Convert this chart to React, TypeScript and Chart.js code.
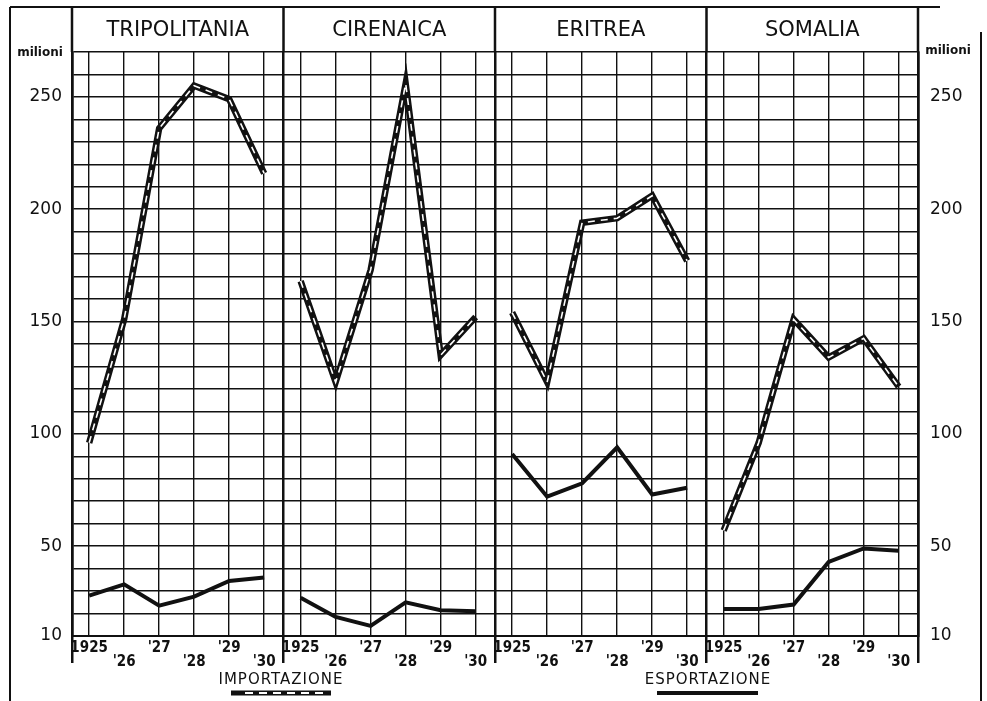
import { useEffect, useRef } from 'react';
import { Chart, registerables } from 'chart.js';

Chart.register(...registerables);

// ---- data ----
const colonies = ['TRIPOLITANIA', 'CIRENAICA', 'ERITREA', 'SOMALIA'];
const yearLabels = ['1925', "'26", "'27", "'28", "'29", "'30"];
const yTickLabels = [10, 50, 100, 150, 200, 250];

const importTripolitania = [96, 151, 236, 255, 249, 216];
const exportTripolitania = [28, 33, 23.5, 27.5, 34.5, 36];
const importCirenaica = [168, 123, 173, 256, 135, 152];
const exportCirenaica = [27, 18.5, 14.5, 25, 21.5, 21];
const importEritrea = [154, 123, 194, 196, 206, 177];
const exportEritrea = [91, 72, 78, 94, 73, 76];
const importSomalia = [57, 96, 151, 134, 142.5, 121];
const exportSomalia = [22, 22, 24, 43, 49, 48];

const importSeries = [importTripolitania, importCirenaica, importEritrea, importSomalia];
const exportSeries = [exportTripolitania, exportCirenaica, exportEritrea, exportSomalia];

// ---- layout constants ----
const PANEL_W = 6.043; // panel width in year units
const X0 = -0.49; // left edge of first panel
const X_MAX = X0 + 4 * PANEL_W;
const INK = '#111';

type TickInfo = { value: number; label: string[]; border: boolean };
const tickList: TickInfo[] = [];
for (let k = 0; k < 4; k++) {
  tickList.push({ value: X0 + k * PANEL_W, label: [''], border: true });
  yearLabels.forEach((lab, i) => {
    tickList.push({
      value: k * PANEL_W + i,
      label: i % 2 === 0 ? [lab, ''] : ['', lab],
      border: false,
    });
  });
}
tickList.push({ value: X_MAX, label: [''], border: true });

const framePlugin = {
  id: 'frame',
  afterDraw(chart: any) {
    const ctx = chart.ctx as CanvasRenderingContext2D;
    const xs = chart.scales.x;
    const top = chart.chartArea.top;
    ctx.save();
    ctx.strokeStyle = INK;
    ctx.fillStyle = INK;
    // outer frame
    ctx.lineWidth = 2;
    ctx.beginPath();
    ctx.moveTo(10, 7);
    ctx.lineTo(940, 7);
    ctx.moveTo(10, 7);
    ctx.lineTo(10, 701);
    ctx.moveTo(981, 32);
    ctx.lineTo(981, 701);
    ctx.stroke();
    // header separators
    ctx.lineWidth = 2.5;
    const borders: number[] = [];
    for (let k = 0; k <= 4; k++) borders.push(xs.getPixelForValue(X0 + k * PANEL_W));
    ctx.beginPath();
    borders.forEach((b) => {
      ctx.moveTo(b, 7);
      ctx.lineTo(b, top);
    });
    ctx.stroke();
    // titles
    ctx.textAlign = 'center';
    ctx.textBaseline = 'middle';
    ctx.font = '21px "DejaVu Sans", sans-serif';
    colonies.forEach((name, k) => {
      ctx.fillText(name, (borders[k] + borders[k + 1]) / 2, 31);
    });
    // unit labels
    ctx.font = 'bold 12px "DejaVu Sans", sans-serif';
    ctx.fillText('milioni', 40, 53);
    ctx.fillText('milioni', 948, 51);
    // legend
    ctx.font = '15px "DejaVu Sans", sans-serif';
    (ctx as any).letterSpacing = '1px';
    ctx.fillText('IMPORTAZIONE', 281, 680);
    ctx.fillText('ESPORTAZIONE', 708, 680);
    (ctx as any).letterSpacing = '0px';
    ctx.lineCap = 'butt';
    ctx.lineWidth = 5;
    ctx.beginPath();
    ctx.moveTo(231, 693);
    ctx.lineTo(331, 693);
    ctx.stroke();
    ctx.strokeStyle = '#fff';
    ctx.lineWidth = 1.8;
    ctx.setLineDash([8, 6]);
    ctx.beginPath();
    ctx.moveTo(245, 693);
    ctx.lineTo(329, 693);
    ctx.stroke();
    ctx.setLineDash([]);
    ctx.strokeStyle = INK;
    ctx.lineWidth = 4;
    ctx.beginPath();
    ctx.moveTo(657, 693);
    ctx.lineTo(758, 693);
    ctx.stroke();
    ctx.restore();
  },
};

export default function App() {
  const ref = useRef<HTMLCanvasElement | null>(null);

  useEffect(() => {
    if (!ref.current) return;
    const datasets: any[] = [];
    for (let k = 0; k < 4; k++) {
      const imp = importSeries[k].map((v, i) => ({ x: k * PANEL_W + i, y: v }));
      const exp = exportSeries[k].map((v, i) => ({ x: k * PANEL_W + i, y: v }));
      datasets.push({
        label: 'Importazione ' + colonies[k],
        data: imp,
        borderColor: '#fff',
        borderWidth: 1.6,
        borderDash: [7, 6],
        borderCapStyle: 'butt',
        pointRadius: 0,
        order: 0,
      });
      datasets.push({
        label: 'Importazione ' + colonies[k] + ' (contorno)',
        data: imp,
        borderColor: INK,
        borderWidth: 6.5,
        borderJoinStyle: 'miter',
        pointRadius: 0,
        order: 1,
      });
      datasets.push({
        label: 'Esportazione ' + colonies[k],
        data: exp,
        borderColor: INK,
        borderWidth: 4,
        borderJoinStyle: 'miter',
        pointRadius: 0,
        order: 1,
      });
    }

    const yTickCb = (v: any) => (yTickLabels.includes(Number(v)) ? String(v) : '');
    const yFont = { family: '"DejaVu Sans", sans-serif', size: 17 };

    const chart = new Chart(ref.current, {
      type: 'line',
      data: { datasets },
      plugins: [framePlugin],
      options: {
        animation: false,
        responsive: false,
        layout: { padding: { top: 52, left: 0, right: 0, bottom: 0 } },
        plugins: { legend: { display: false }, tooltip: { enabled: false } },
        scales: {
          x: {
            type: 'linear',
            min: X0,
            max: X_MAX,
            afterBuildTicks: (s: any) => {
              s.ticks = tickList.map((t) => ({ value: t.value }));
            },
            afterFit: (s: any) => {
              s.height = 65;
            },
            ticks: {
              autoSkip: false,
              maxRotation: 0,
              minRotation: 0,
              padding: -22,
              color: INK,
              font: {
                family: '"DejaVu Sans Condensed", "Liberation Sans Narrow", "DejaVu Sans", sans-serif',
                size: 15,
                weight: 'bold',
                lineHeight: '14px',
              },
              callback: (_v: any, idx: number) => tickList[idx]?.label ?? '',
            },
            grid: {
              color: INK,
              lineWidth: (c: any) => (tickList[c.index]?.border ? 2.5 : 1.4),
              tickLength: 27,
              tickColor: (c: any) => (tickList[c.index]?.border ? INK : 'rgba(0,0,0,0)'),
              tickWidth: (c: any) => (tickList[c.index]?.border ? 2.5 : 0),
            },
            border: { color: INK, width: 2 },
          },
          y: {
            type: 'linear',
            position: 'left',
            min: 10,
            max: 270,
            afterFit: (s: any) => {
              s.width = 72;
            },
            ticks: {
              stepSize: 10,
              autoSkip: false,
              padding: 10,
              color: INK,
              font: yFont,
              callback: yTickCb,
            },
            grid: { color: INK, lineWidth: 1.6, drawTicks: false },
            border: { color: INK, width: 2.5 },
          },
          y2: {
            type: 'linear',
            position: 'right',
            min: 10,
            max: 270,
            afterFit: (s: any) => {
              s.width = 69;
            },
            ticks: {
              stepSize: 10,
              autoSkip: false,
              padding: 12,
              color: INK,
              font: yFont,
              callback: yTickCb,
            },
            grid: { drawOnChartArea: false, drawTicks: false },
            border: { color: INK, width: 2.5 },
          },
        },
      } as any,
    });
    return () => chart.destroy();
  }, []);

  return (
    <div style={{ position: 'fixed', left: 0, top: 0, width: 987, height: 701, background: '#fff' }}>
      <canvas ref={ref} width={987} height={701} style={{ display: 'block' }} />
    </div>
  );
}
